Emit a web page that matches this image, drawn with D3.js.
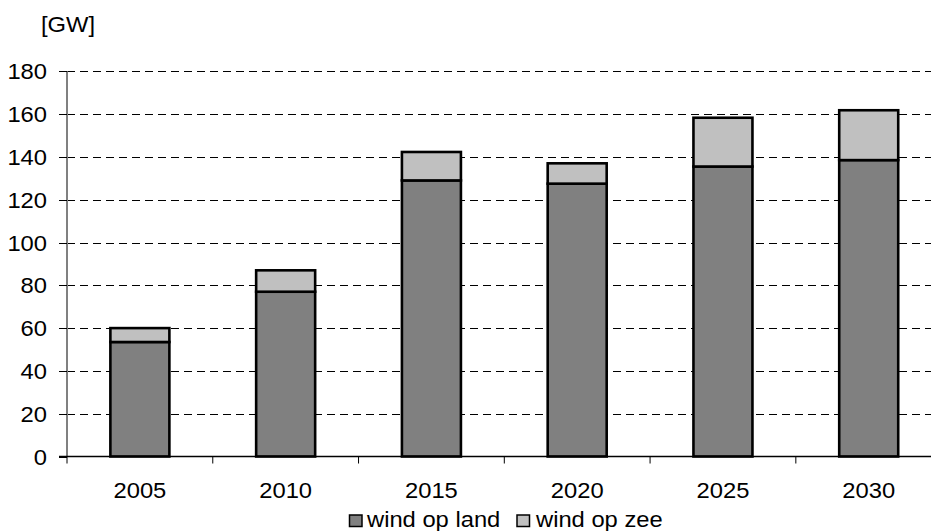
<!DOCTYPE html>
<html><head><meta charset="utf-8">
<script src="https://cdn.jsdelivr.net/npm/d3@7"></script>
<style>body{margin:0;background:#fff}svg{display:block}text{font-family:"Liberation Sans",Arial,sans-serif;fill:#000}</style>
</head><body>
<script>
const years = ["2005","2010","2015","2020","2025","2030"];
const windLand = [53.5, 77, 129, 127.5, 135.5, 138.5];
const windZee = [6.5, 10, 13.3, 9.5, 22.8, 23.3];
const seriesNames = ["wind op land","wind op zee"];
const seriesColors = ["#808080","#c0c0c0"];
const yTicks = [0,20,40,60,80,100,120,140,160,180];
const unitLabel = "[GW]";

const W = 931, H = 531;
const svg = d3.select("body").append("svg").attr("width", W).attr("height", H);
const x0 = 67, xEnd = 941.6;
const x = d3.scaleBand().domain(years).range([x0, xEnd]);
const y = d3.scaleLinear().domain([0,180]).range([456.5, 71.3]);
const FS = 22, SX = 1.08;

function txt(g, s, tx, ty, anchor) {
  return g.append("text").attr("transform", `translate(${tx},${ty}) scale(${SX},1)`)
    .attr("text-anchor", anchor).attr("font-size", FS).text(s);
}

// gridlines
svg.append("g").selectAll("line").data(yTicks.filter(d => d > 0)).join("line")
  .attr("x1", x0).attr("x2", W).attr("y1", d => Math.round(y(d)) + 0.5).attr("y2", d => Math.round(y(d)) + 0.5)
  .attr("stroke", "#000").attr("stroke-width", 1).attr("stroke-dasharray", "8,5");

// bars
const stacked = years.map((yr, i) => ({yr, land: windLand[i], zee: windZee[i]}));
const bw = 59;
const bars = svg.append("g");
bars.selectAll("rect.land").data(stacked).join("rect").attr("class","land")
  .attr("x", d => x(d.yr) + x.bandwidth()/2 - bw/2).attr("width", bw)
  .attr("y", d => y(d.land)).attr("height", d => y(0) - y(d.land))
  .attr("fill", seriesColors[0]).attr("stroke", "#000").attr("stroke-width", 2.6);
bars.selectAll("rect.zee").data(stacked).join("rect").attr("class","zee")
  .attr("x", d => x(d.yr) + x.bandwidth()/2 - bw/2).attr("width", bw)
  .attr("y", d => y(d.land + d.zee)).attr("height", d => y(d.land) - y(d.land + d.zee))
  .attr("fill", seriesColors[1]).attr("stroke", "#000").attr("stroke-width", 2.6);

// y axis
const ya = svg.append("g");
ya.append("line").attr("x1", x0).attr("x2", x0).attr("y1", y(180)).attr("y2", y(0))
  .attr("stroke", "#808080").attr("stroke-width", 2);
ya.selectAll("line.t").data(yTicks).join("line").attr("class","t")
  .attr("x1", x0 - 8).attr("x2", x0).attr("y1", d => Math.round(y(d)) + 0.5).attr("y2", d => Math.round(y(d)) + 0.5)
  .attr("stroke", "#000").attr("stroke-width", 1);
yTicks.forEach(t => txt(ya, String(t), 47, y(t) + 8, "end"));

// x axis
const xa = svg.append("g");
xa.append("line").attr("x1", x0 - 8).attr("x2", W).attr("y1", y(0)).attr("y2", y(0))
  .attr("stroke", "#000").attr("stroke-width", 1.5);
const bounds = years.map(yr => x(yr)).concat([xEnd]);
xa.selectAll("line.t").data(bounds).join("line").attr("class","t")
  .attr("x1", d => d).attr("x2", d => d).attr("y1", y(0)).attr("y2", y(0) + 7)
  .attr("stroke", "#000").attr("stroke-width", 1);
years.forEach(yr => txt(xa, yr, x(yr) + x.bandwidth()/2, 497.5, "middle"));

// unit label
txt(svg, unitLabel, 41, 32, "start");

// legend
const lg = svg.append("g");
const legX = [349.5, 517], legTX = [367, 536];
seriesNames.forEach((n, i) => {
  lg.append("rect").attr("x", legX[i]).attr("y", 515).attr("width", 12.5).attr("height", 11.5)
    .attr("fill", seriesColors[i]).attr("stroke", "#000").attr("stroke-width", 1.5);
  txt(lg, n, legTX[i], 527, "start");
});
</script>
</body></html>
